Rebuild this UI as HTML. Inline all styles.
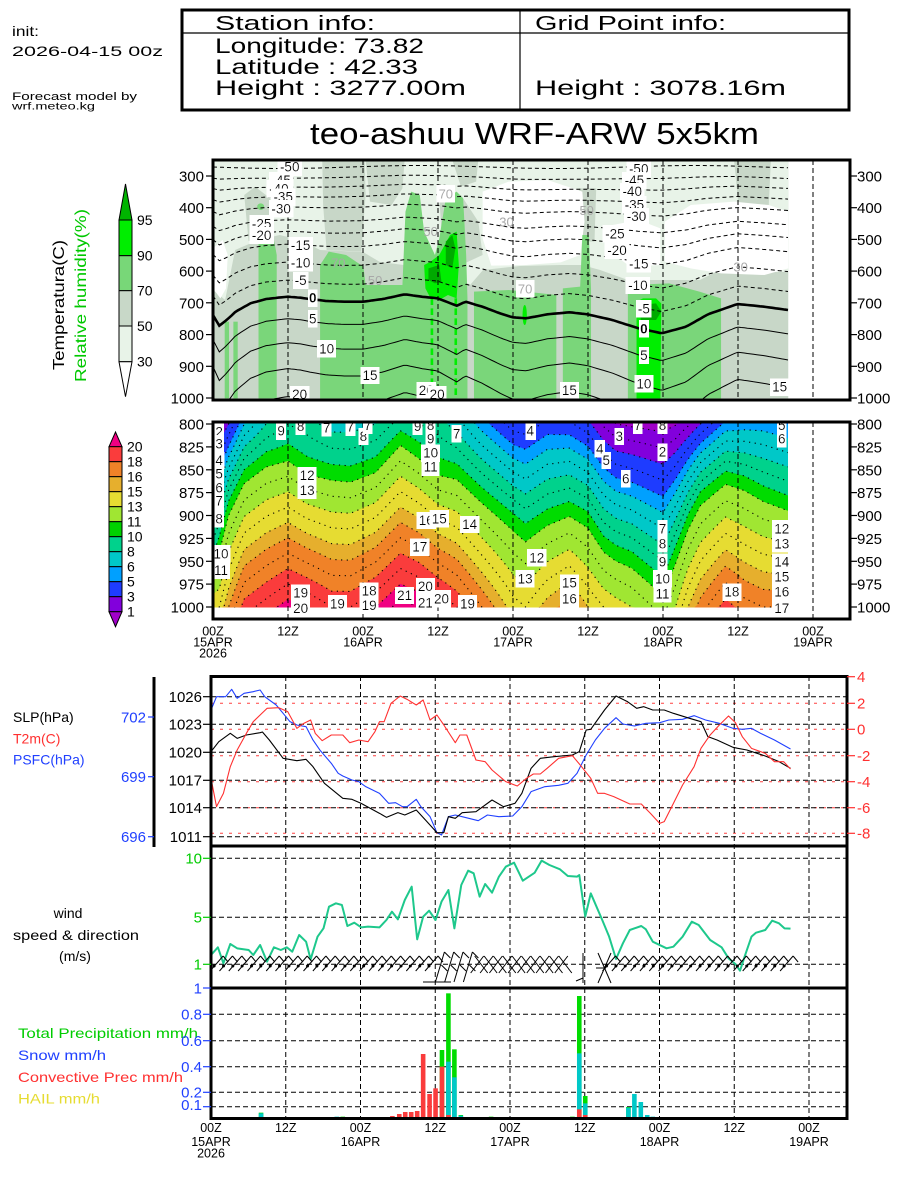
<!DOCTYPE html>
<html><head><meta charset="utf-8">
<style>
html,body{margin:0;padding:0;background:#fff;}
svg{display:block;font-family:"Liberation Sans",sans-serif;}
.lb{font-size:13.5px;text-anchor:middle;filter:url(#wb);fill:#000;}
.rh{font-size:13px;text-anchor:middle;fill:#a8a8a8;}
.ax{font-size:15px;fill:#000;}
.tl{font-size:12.5px;text-anchor:middle;fill:#000;}
</style></head>
<body>
<svg width="900" height="1200" viewBox="0 0 900 1200" xmlns="http://www.w3.org/2000/svg">
<defs>
<filter id="wb" x="-0.12" y="-0.06" width="1.24" height="1.12"><feFlood flood-color="#fff"/><feComposite in="SourceGraphic" operator="over"/></filter>
<clipPath id="cTop"><rect x="213" y="160" width="576" height="238.5"/></clipPath>
<clipPath id="cP2"><rect x="213" y="422" width="575" height="185.5"/></clipPath>
<clipPath id="cLow"><rect x="211" y="676" width="636" height="442"/></clipPath>
<linearGradient id="fb" x1="0" y1="0" x2="0" y2="1">
<stop offset="0" stop-color="#00c8c8"/><stop offset="0.35" stop-color="#00dc00"/><stop offset="0.55" stop-color="#a0e632"/><stop offset="0.75" stop-color="#e6dc32"/><stop offset="1" stop-color="#f08228"/>
</linearGradient>
</defs>
<rect width="900" height="1200" fill="#fff"/>

<!-- HEADER -->
<text x="12" y="36" font-size="14" textLength="27" lengthAdjust="spacingAndGlyphs">init:</text>
<text x="12" y="56" font-size="14" textLength="151" lengthAdjust="spacingAndGlyphs">2026-04-15 00z</text>
<text x="12" y="100" font-size="11" textLength="125" lengthAdjust="spacingAndGlyphs">Forecast model by</text>
<text x="12" y="109.5" font-size="10" textLength="83" lengthAdjust="spacingAndGlyphs">wrf.meteo.kg</text>
<rect x="182" y="10" width="667" height="100" fill="none" stroke="#000" stroke-width="3"/>
<line x1="182" y1="33" x2="849" y2="33" stroke="#000" stroke-width="1.2"/>
<line x1="520" y1="10" x2="520" y2="110" stroke="#000" stroke-width="1.2"/>
<text x="215" y="30" font-size="20" textLength="160" lengthAdjust="spacingAndGlyphs">Station info:</text>
<text x="215" y="53" font-size="21" textLength="209" lengthAdjust="spacingAndGlyphs">Longitude: 73.82</text>
<text x="215" y="74" font-size="21" textLength="203" lengthAdjust="spacingAndGlyphs">Latitude : 42.33</text>
<text x="215" y="95" font-size="21" textLength="251" lengthAdjust="spacingAndGlyphs">Height   : 3277.00m</text>
<text x="535" y="30" font-size="20" textLength="191" lengthAdjust="spacingAndGlyphs">Grid Point info:</text>
<text x="535" y="95" font-size="21" textLength="251" lengthAdjust="spacingAndGlyphs">Height   : 3078.16m</text>
<text x="310" y="144" font-size="31" textLength="449" lengthAdjust="spacingAndGlyphs">teo-ashuu WRF-ARW 5x5km</text>

<!-- LEFT LEGEND TOP -->
<text transform="translate(64,305) rotate(-90)" text-anchor="middle" font-size="16" textLength="130" lengthAdjust="spacingAndGlyphs">Temperatura(C)</text>
<text transform="translate(86,295.5) rotate(-90)" text-anchor="middle" font-size="15.5" fill="#00c800" textLength="173" lengthAdjust="spacingAndGlyphs">Relative humidity(%)</text>
<g stroke="#000" stroke-width="1">
<polygon points="119,220 132,220 125.5,184" fill="#00b400"/>
<rect x="119" y="220" width="13" height="35.7" fill="#00ee00"/>
<rect x="119" y="255.7" width="13" height="35" fill="#78d778"/>
<rect x="119" y="290.7" width="13" height="35.3" fill="#c8d8c8"/>
<rect x="119" y="326" width="13" height="35.7" fill="#e8f3e8"/>
<polygon points="119,361.7 132,361.7 125.5,396.7" fill="#fff"/>
</g>
<g font-size="14">
<text x="137" y="225">95</text><text x="137" y="260.7">90</text><text x="137" y="295.7">70</text><text x="137" y="331">50</text><text x="137" y="366.7">30</text>
</g>

<!-- LEFT LEGEND PANEL 2 -->
<g stroke="#000" stroke-width="1">
<polygon points="109,446.7 122,446.7 115.5,432" fill="#f00082"/>
<rect x="109" y="446.7" width="13" height="15" fill="#fa3c3c"/>
<rect x="109" y="461.7" width="13" height="15" fill="#f08228"/>
<rect x="109" y="476.7" width="13" height="15" fill="#e6af2d"/>
<rect x="109" y="491.7" width="13" height="15" fill="#e6dc32"/>
<rect x="109" y="506.7" width="13" height="15" fill="#a0e632"/>
<rect x="109" y="521.7" width="13" height="15" fill="#00d200"/>
<rect x="109" y="536.7" width="13" height="15" fill="#00d28c"/>
<rect x="109" y="551.7" width="13" height="15" fill="#00c8c8"/>
<rect x="109" y="566.7" width="13" height="15" fill="#00a0ff"/>
<rect x="109" y="581.7" width="13" height="15" fill="#1e3cff"/>
<rect x="109" y="596.7" width="13" height="15" fill="#8200dc"/>
<polygon points="109,611.7 122,611.7 115.5,626.7" fill="#a000c8"/>
</g>
<g font-size="14">
<text x="127" y="451.7">20</text><text x="127" y="466.7">18</text><text x="127" y="481.7">16</text><text x="127" y="496.7">15</text><text x="127" y="511.7">13</text><text x="127" y="526.7">11</text><text x="127" y="541.7">10</text><text x="127" y="556.7">8</text><text x="127" y="571.7">6</text><text x="127" y="586.7">5</text><text x="127" y="601.7">3</text><text x="127" y="616.7">1</text>
</g>

<!-- TOP PANEL RH FILL -->
<g clip-path="url(#cTop)">
 <g transform="matrix(0.4335 0 0 0.33333 179.19 155)">
  <rect x="78" y="15" width="1327" height="715" fill="#c8d7c8"/>
  <path fill="#e8f3e8" d="M78,15 L1405,15 L1405,351 L1340,351 L1247,345 L1201,375 L1035,375 L971,345 L929,330 L878,330 L786,333 L701,345 L671,390 L599,330 L518,330 L463,321 L424,291 L325,285 L279,255 L232,240 L182,255 L129,285 L106,435 L78,405 Z"/>
  <g fill="#c8d7c8">
   <path d="M330,15 L428,15 L430,120 L420,290 L340,285 L332,150 Z"/>
   <path d="M430,15 L520,15 L515,100 L490,150 L440,140 Z"/>
   <path d="M150,120 L175,95 L210,130 L215,250 L160,258 Z"/>
   <path d="M1280,15 L1365,15 L1360,150 L1320,210 L1290,150 Z"/>
   <path d="M630,15 L690,15 L685,80 L650,95 Z"/>
   <path d="M922,100 L962,100 L958,260 L928,260 Z"/>
   <path d="M600,130 L650,120 L690,200 L700,300 L650,330 L610,320 Z"/>
  </g>
  <g fill="#fff">
   <path d="M78,280 L100,255 L112,300 L108,400 L95,430 L78,400 Z"/>
   <path d="M700,110 L760,80 L850,75 L930,110 L935,200 L925,300 L880,322 L800,330 L720,332 L700,250 Z"/>
   <path d="M1000,210 L1060,195 L1110,220 L1110,330 L1040,335 L1005,300 Z"/>
   <path d="M1120,200 L1180,150 L1280,140 L1360,150 L1405,170 L1405,340 L1350,360 L1250,355 L1180,340 L1120,320 Z"/>
  </g>
  <g fill="#7ad67a">
   <rect x="105" y="500" width="10" height="230"/>
   <rect x="125" y="500" width="10" height="230"/>
   <path d="M183,730 L183,260 L190,215 L205,205 L215,230 L225,300 L225,730 Z"/>
   <ellipse cx="188" cy="155" rx="8" ry="10"/>
   <path d="M325,730 L325,330 L345,290 L385,300 L425,335 L430,390 L515,390 L522,170 L535,110 L555,120 L565,230 L590,300 L600,250 L615,130 L640,110 L655,130 L662,300 L665,430 L665,730 Z"/>
   <path d="M680,730 L680,410 L760,405 L800,410 L870,420 L870,730 Z"/>
   <path d="M885,730 L885,400 L925,395 L930,240 L945,240 L950,400 L950,730 Z"/>
   <path d="M1035,730 L1035,390 L1130,385 L1200,410 L1250,430 L1250,730 Z"/>
  </g>
  <g fill="#00ee00">
   <path d="M565,330 L580,320 L600,300 L625,240 L640,230 L645,330 L640,430 L620,420 L600,435 L580,430 L568,400 Z"/>
   <ellipse cx="797" cy="480" rx="5" ry="30"/>
   <path d="M1055,730 L1055,440 L1070,430 L1100,430 L1112,445 L1110,730 Z"/>
  </g>
  <g fill="#00aa00">
   <path d="M575,340 L600,330 L605,380 L590,385 L575,375 Z"/>
   <path d="M615,260 L630,240 L637,280 L630,340 L615,330 Z"/>
   <path d="M1062,450 L1100,445 L1112,470 L1100,495 L1065,495 Z"/>
  </g>
  <g stroke="#00ee00" stroke-width="6" stroke-dasharray="20,10">
   <line x1="583" y1="430" x2="583" y2="730"/>
   <line x1="638" y1="430" x2="638" y2="730"/>
  </g>
 </g>
 <g id="topIso"></g>
</g>
<g stroke="#000" stroke-width="1" stroke-dasharray="5,3">
<line x1="288" y1="160" x2="288" y2="400"/><line x1="363" y1="160" x2="363" y2="400"/><line x1="438" y1="160" x2="438" y2="400"/><line x1="513" y1="160" x2="513" y2="400"/><line x1="588" y1="160" x2="588" y2="400"/><line x1="663" y1="160" x2="663" y2="400"/><line x1="738" y1="160" x2="738" y2="400"/><line x1="813" y1="160" x2="813" y2="400"/>
</g>
<!-- top labels -->
<text class="rh" x="430.6" y="236">50</text>
<text class="rh" x="338.3" y="267.3">70</text>
<text class="rh" x="375.1" y="285">50</text>
<text class="rh" x="506.5" y="226.7">30</text>
<text class="rh" x="586.7" y="215">50</text>
<text class="rh" x="740.6" y="271.7">30</text>
<text class="rh" x="445.8" y="198.3" filter="url(#wb)">70</text>
<text class="rh" x="525.1" y="293.3" filter="url(#wb)">70</text>
<text class="lb" x="289.7" y="171.7">-50</text>
<text class="lb" x="281.1" y="185">-45</text>
<text class="lb" x="278.9" y="193.3">-40</text>
<text class="lb" x="283.2" y="201.7">-35</text>
<text class="lb" x="281.1" y="213.3">-30</text>
<text class="lb" x="261.6" y="228.3">-25</text>
<text class="lb" x="261.6" y="240">-20</text>
<text class="lb" x="300.6" y="250">-15</text>
<text class="lb" x="300.6" y="267.3">-10</text>
<text class="lb" x="300.6" y="285">-5</text>
<text class="lb" x="312.7" y="302.7" font-weight="bold">0</text>
<text class="lb" x="312.7" y="323.3">5</text>
<text class="lb" x="326.6" y="353.3">10</text>
<text class="lb" x="370" y="380">15</text>
<text class="lb" x="299.7" y="399">20</text>
<text class="lb" x="426.3" y="395">20</text>
<text class="lb" x="437.1" y="399">20</text>
<text class="lb" x="638.7" y="173.3">-50</text>
<text class="lb" x="634.4" y="185">-45</text>
<text class="lb" x="632.2" y="196">-40</text>
<text class="lb" x="634.4" y="209.3">-35</text>
<text class="lb" x="636.5" y="221">-30</text>
<text class="lb" x="614.9" y="238.3">-25</text>
<text class="lb" x="617" y="255">-20</text>
<text class="lb" x="638.7" y="268.3">-15</text>
<text class="lb" x="637.9" y="290">-10</text>
<text class="lb" x="643.9" y="313.3">-5</text>
<text class="lb" x="643.9" y="333.3" font-weight="bold">0</text>
<text class="lb" x="643.9" y="360">5</text>
<text class="lb" x="643.9" y="388.3">10</text>
<text class="lb" x="569.4" y="395">15</text>
<text class="lb" x="779.6" y="391.7">15</text>
<rect x="213" y="160" width="637" height="240" fill="none" stroke="#000" stroke-width="3"/>
<g stroke="#000" stroke-width="1.2">
<line x1="206" y1="176" x2="213" y2="176"/><line x1="206" y1="207.7" x2="213" y2="207.7"/><line x1="206" y1="239.4" x2="213" y2="239.4"/><line x1="206" y1="271.1" x2="213" y2="271.1"/><line x1="206" y1="302.8" x2="213" y2="302.8"/><line x1="206" y1="334.6" x2="213" y2="334.6"/><line x1="206" y1="366.3" x2="213" y2="366.3"/><line x1="206" y1="398" x2="213" y2="398"/>
<line x1="850" y1="176" x2="857" y2="176"/><line x1="850" y1="207.7" x2="857" y2="207.7"/><line x1="850" y1="239.4" x2="857" y2="239.4"/><line x1="850" y1="271.1" x2="857" y2="271.1"/><line x1="850" y1="302.8" x2="857" y2="302.8"/><line x1="850" y1="334.6" x2="857" y2="334.6"/><line x1="850" y1="366.3" x2="857" y2="366.3"/><line x1="850" y1="398" x2="857" y2="398"/>
</g>
<g class="ax" text-anchor="end">
<text x="204" y="181.5">300</text><text x="204" y="213.2">400</text><text x="204" y="244.9">500</text><text x="204" y="276.6">600</text><text x="204" y="308.3">700</text><text x="204" y="340.1">800</text><text x="204" y="371.8">900</text><text x="204" y="403.5">1000</text>
</g>
<g class="ax">
<text x="857" y="181.5">300</text><text x="857" y="213.2">400</text><text x="857" y="244.9">500</text><text x="857" y="276.6">600</text><text x="857" y="308.3">700</text><text x="857" y="340.1">800</text><text x="857" y="371.8">900</text><text x="857" y="403.5">1000</text>
</g>

<!-- PANEL 2 -->
<rect x="213" y="422" width="575" height="185.5" fill="url(#fb)"/>
<g clip-path="url(#cP2)">
 <g id="p2fill"></g>
 <g id="p2dots"></g>
</g>
<g stroke="#000" stroke-width="1" stroke-dasharray="5,3">
<line x1="288" y1="422" x2="288" y2="619"/><line x1="363" y1="422" x2="363" y2="619"/><line x1="438" y1="422" x2="438" y2="619"/><line x1="513" y1="422" x2="513" y2="619"/><line x1="588" y1="422" x2="588" y2="619"/><line x1="663" y1="422" x2="663" y2="619"/><line x1="738" y1="422" x2="738" y2="619"/><line x1="813" y1="422" x2="813" y2="619"/>
</g>
<g>
<text class="lb" x="219.1" y="436.7">2</text><text class="lb" x="219.1" y="448.3">3</text><text class="lb" x="219.1" y="465">4</text><text class="lb" x="219.1" y="478.3">5</text><text class="lb" x="219.1" y="492.3">6</text><text class="lb" x="219.1" y="505.7">7</text><text class="lb" x="219.1" y="523.3">8</text><text class="lb" x="221" y="558.3">10</text><text class="lb" x="221" y="575">11</text>
<text class="lb" x="281.1" y="435.7">9</text><text class="lb" x="300.6" y="431">8</text><text class="lb" x="326.6" y="432.3">7</text><text class="lb" x="350.4" y="431.7">7</text><text class="lb" x="363.4" y="441">8</text><text class="lb" x="367.8" y="430">7</text>
<text class="lb" x="417.6" y="431">9</text><text class="lb" x="430.6" y="430">8</text><text class="lb" x="430.6" y="443.3">9</text><text class="lb" x="430.6" y="457.7">10</text><text class="lb" x="430.6" y="471.7">11</text><text class="lb" x="456.6" y="438.3">7</text>
<text class="lb" x="307.1" y="480">12</text><text class="lb" x="307.1" y="495">13</text>
<text class="lb" x="426.3" y="525">16</text><text class="lb" x="439.3" y="523.3">15</text><text class="lb" x="469.6" y="529">14</text><text class="lb" x="419.8" y="551.7">17</text>
<text class="lb" x="536.8" y="562.3">12</text><text class="lb" x="525.1" y="583.3">13</text><text class="lb" x="569.4" y="587.7">15</text><text class="lb" x="569.4" y="603.3">16</text>
<text class="lb" x="300.6" y="597.7">19</text><text class="lb" x="300.6" y="613">20</text><text class="lb" x="337.4" y="608.3">19</text><text class="lb" x="369.1" y="595.7">18</text><text class="lb" x="369.1" y="610">19</text>
<text class="lb" x="404.6" y="600">21</text><text class="lb" x="425.4" y="591">20</text><text class="lb" x="425.4" y="607.7">21</text><text class="lb" x="441.5" y="603.3">20</text><text class="lb" x="467.5" y="608.3">19</text>
<text class="lb" x="530.3" y="435.7">4</text><text class="lb" x="619.2" y="441">3</text><text class="lb" x="599.7" y="453.3">4</text><text class="lb" x="606.2" y="465">5</text><text class="lb" x="625.7" y="483.3">6</text>
<text class="lb" x="637.8" y="430">7</text><text class="lb" x="662.5" y="430">8</text><text class="lb" x="662.5" y="456.7">2</text>
<text class="lb" x="662.5" y="533.3">7</text><text class="lb" x="662.5" y="548.3">8</text><text class="lb" x="662.5" y="566.7">9</text><text class="lb" x="662.5" y="583.3">10</text><text class="lb" x="662.5" y="598.3">11</text>
<text class="lb" x="731.9" y="596.7">18</text>
<text class="lb" x="781.8" y="430">5</text><text class="lb" x="781.8" y="443.3">6</text><text class="lb" x="781.8" y="533.3">12</text><text class="lb" x="781.8" y="548.3">13</text><text class="lb" x="781.8" y="566.7">14</text><text class="lb" x="781.8" y="581.7">15</text><text class="lb" x="781.8" y="596.7">16</text><text class="lb" x="781.8" y="613">17</text>
</g>
<rect x="213" y="422" width="637" height="197" fill="none" stroke="#000" stroke-width="3"/>
<g stroke="#000" stroke-width="1.2">
<line x1="206" y1="424" x2="213" y2="424"/><line x1="206" y1="446.9" x2="213" y2="446.9"/><line x1="206" y1="469.8" x2="213" y2="469.8"/><line x1="206" y1="492.6" x2="213" y2="492.6"/><line x1="206" y1="515.5" x2="213" y2="515.5"/><line x1="206" y1="538.4" x2="213" y2="538.4"/><line x1="206" y1="561.3" x2="213" y2="561.3"/><line x1="206" y1="584.1" x2="213" y2="584.1"/><line x1="206" y1="607" x2="213" y2="607"/>
<line x1="850" y1="424" x2="857" y2="424"/><line x1="850" y1="446.9" x2="857" y2="446.9"/><line x1="850" y1="469.8" x2="857" y2="469.8"/><line x1="850" y1="492.6" x2="857" y2="492.6"/><line x1="850" y1="515.5" x2="857" y2="515.5"/><line x1="850" y1="538.4" x2="857" y2="538.4"/><line x1="850" y1="561.3" x2="857" y2="561.3"/><line x1="850" y1="584.1" x2="857" y2="584.1"/><line x1="850" y1="607" x2="857" y2="607"/>
</g>
<g class="ax" text-anchor="end">
<text x="204" y="429.5">800</text><text x="204" y="452.4">825</text><text x="204" y="475.3">850</text><text x="204" y="498.1">875</text><text x="204" y="521">900</text><text x="204" y="543.9">925</text><text x="204" y="566.8">950</text><text x="204" y="589.6">975</text><text x="204" y="612.5">1000</text>
</g>
<g class="ax">
<text x="857" y="429.5">800</text><text x="857" y="452.4">825</text><text x="857" y="475.3">850</text><text x="857" y="498.1">875</text><text x="857" y="521">900</text><text x="857" y="543.9">925</text><text x="857" y="566.8">950</text><text x="857" y="589.6">975</text><text x="857" y="612.5">1000</text>
</g>
<g class="tl">
<text x="213" y="635.5">00Z</text><text x="288" y="635.5">12Z</text><text x="363" y="635.5">00Z</text><text x="438" y="635.5">12Z</text><text x="513" y="635.5">00Z</text><text x="588" y="635.5">12Z</text><text x="663" y="635.5">00Z</text><text x="738" y="635.5">12Z</text><text x="813" y="635.5">00Z</text>
<text x="213" y="646.5">15APR</text><text x="363" y="646.5">16APR</text><text x="513" y="646.5">17APR</text><text x="663" y="646.5">18APR</text><text x="813" y="646.5">19APR</text>
<text x="213" y="657.5">2026</text>
</g>

<!-- LOWER LEFT LEGENDS -->
<text x="13" y="722" font-size="14">SLP(hPa)</text>
<text x="13" y="743.5" font-size="14" fill="#ff3030">T2m(C)</text>
<text x="13" y="764.5" font-size="14" fill="#2040ff">PSFC(hPa)</text>
<text x="68" y="918" font-size="14" text-anchor="middle">wind</text>
<text x="13" y="940" font-size="14" textLength="126" lengthAdjust="spacingAndGlyphs">speed &amp; direction</text>
<text x="75" y="961" font-size="14" text-anchor="middle">(m/s)</text>
<text x="18" y="1038" font-size="14" fill="#00cc00" textLength="180" lengthAdjust="spacingAndGlyphs">Total Precipitation mm/h</text>
<text x="18" y="1060" font-size="14" fill="#2040ff" textLength="88" lengthAdjust="spacingAndGlyphs">Snow mm/h</text>
<text x="18" y="1082" font-size="14" fill="#ff3030" textLength="165" lengthAdjust="spacingAndGlyphs">Convective Prec mm/h</text>
<text x="18" y="1103.5" font-size="14" fill="#e6dc32" textLength="82" lengthAdjust="spacingAndGlyphs">HAIL mm/h</text>

<!-- PSFC axis -->
<line x1="154" y1="677" x2="154" y2="847" stroke="#000" stroke-width="3"/>
<g stroke="#2040ff" stroke-width="1.2"><line x1="148" y1="717" x2="154" y2="717"/><line x1="148" y1="776.7" x2="154" y2="776.7"/><line x1="148" y1="836.7" x2="154" y2="836.7"/></g>
<g class="ax" text-anchor="end" style="fill:#2040ff">
<text x="146" y="722.4">702</text><text x="146" y="782.1">699</text><text x="146" y="842.1">696</text>
</g>

<!-- LOWER PANELS GRID -->
<g stroke="#ff4040" stroke-width="1" stroke-dasharray="3,6">
<line x1="211" y1="703.3" x2="847" y2="703.3"/><line x1="211" y1="729.3" x2="847" y2="729.3"/><line x1="211" y1="755.7" x2="847" y2="755.7"/><line x1="211" y1="781.7" x2="847" y2="781.7"/><line x1="211" y1="807.7" x2="847" y2="807.7"/><line x1="211" y1="833.3" x2="847" y2="833.3"/>
</g>
<g stroke="#000" stroke-width="1" stroke-dasharray="5,3">
<line x1="211" y1="696.7" x2="847" y2="696.7"/><line x1="211" y1="724.3" x2="847" y2="724.3"/><line x1="211" y1="752.3" x2="847" y2="752.3"/><line x1="211" y1="780.3" x2="847" y2="780.3"/><line x1="211" y1="807.7" x2="847" y2="807.7"/><line x1="211" y1="836.7" x2="847" y2="836.7"/>
<line x1="211" y1="858.3" x2="847" y2="858.3"/><line x1="211" y1="917.3" x2="847" y2="917.3"/><line x1="211" y1="964.3" x2="847" y2="964.3"/>
<line x1="211" y1="1014.3" x2="847" y2="1014.3"/><line x1="211" y1="1040.7" x2="847" y2="1040.7"/><line x1="211" y1="1066.7" x2="847" y2="1066.7"/><line x1="211" y1="1092.3" x2="847" y2="1092.3"/><line x1="211" y1="1106.7" x2="847" y2="1106.7"/>
<line x1="285.75" y1="676" x2="285.75" y2="1118"/><line x1="360.5" y1="676" x2="360.5" y2="1118"/><line x1="435.25" y1="676" x2="435.25" y2="1118"/><line x1="510" y1="676" x2="510" y2="1118"/><line x1="584.75" y1="676" x2="584.75" y2="1118"/><line x1="659.5" y1="676" x2="659.5" y2="1118"/><line x1="734.25" y1="676" x2="734.25" y2="1118"/><line x1="809" y1="676" x2="809" y2="1118"/>
</g>

<!-- SLP / T2m / PSFC lines -->
<g clip-path="url(#cLow)">
<g transform="matrix(0.4592 0 0 0.33333 149.93 670)" fill="none" stroke-linejoin="round">
<polyline vector-effect="non-scaling-stroke" stroke="#2040ff" stroke-width="1.1" points="133,120 145,80 165,80 178,58 190,85 205,70 225,65 240,60 250,80 275,105 290,130 305,155 320,165 340,170 355,210 370,240 395,280 410,310 420,318 440,330 455,335 470,350 500,370 520,400 535,398 550,410 560,410 580,388 590,410 610,440 625,488 635,495 650,440 665,435 680,440 715,452 735,435 760,440 790,438 810,410 830,365 860,350 890,346 910,340 930,310 950,255 970,210 990,175 1015,143 1030,162 1055,168 1080,160 1110,158 1130,150 1160,148 1185,137 1210,150 1240,160 1270,175 1290,178 1310,175 1330,190 1360,210 1395,237"/>
<polyline vector-effect="non-scaling-stroke" stroke="#000" stroke-width="1.1" points="133,245 150,215 175,190 190,205 210,195 240,188 245,186 260,210 290,265 320,272 340,268 355,290 380,340 420,385 440,388 460,400 500,430 515,442 540,428 555,435 580,420 600,450 625,488 640,488 650,440 665,445 680,428 710,425 745,390 770,410 795,400 810,370 830,295 850,265 880,260 920,255 935,245 950,180 960,178 990,120 1015,78 1040,95 1060,115 1075,110 1095,120 1120,120 1140,130 1175,145 1200,155 1215,200 1235,210 1270,232 1280,235 1300,240 1340,258 1370,275 1395,295"/>
<polyline vector-effect="non-scaling-stroke" stroke="#ff3030" stroke-width="1.1" points="133,325 145,410 160,370 175,290 190,240 210,190 225,155 240,135 255,115 280,113 300,125 320,175 335,160 350,150 360,190 375,212 395,195 420,195 435,218 455,210 475,215 490,185 500,155 510,155 525,100 545,78 560,88 580,105 595,90 610,150 625,135 640,165 665,218 675,195 690,195 710,270 730,275 745,300 775,335 800,348 820,325 835,312 850,312 865,295 890,265 920,257 940,290 960,325 975,370 990,370 1010,380 1045,402 1070,402 1090,430 1110,460 1120,455 1140,400 1160,345 1185,290 1200,235 1220,195 1240,165 1260,138 1275,158 1290,200 1310,235 1340,250 1360,275 1380,275 1395,297"/>
</g>
<g transform="matrix(0.4592 0 0 0.33333 149.93 840)" fill="none" stroke-linejoin="round">
<polyline vector-effect="non-scaling-stroke" stroke="#1ec88c" stroke-width="2" points="133,345 148,322 160,370 175,312 190,325 215,330 225,345 240,315 255,365 270,322 285,330 298,322 310,335 325,285 340,305 350,358 365,290 378,265 390,200 405,190 418,195 430,258 445,248 460,262 475,260 500,262 515,240 527,215 540,238 555,180 570,140 582,298 595,230 608,212 622,240 635,185 650,150 663,265 678,135 693,92 705,100 718,170 730,132 745,158 760,110 775,80 793,68 812,122 838,98 853,62 870,75 893,88 910,108 930,110 935,105 948,230 960,160 985,240 1000,290 1015,357 1030,310 1045,270 1070,258 1080,268 1095,305 1125,325 1140,320 1160,290 1180,245 1195,255 1220,300 1245,322 1260,355 1275,372 1285,392 1295,350 1310,290 1320,278 1340,270 1355,242 1370,250 1382,265 1395,266"/>
</g>
<g id="barbs" stroke="#000" stroke-width="1" fill="#000">
<line x1="423" y1="982" x2="451" y2="982"/>
<line x1="583" y1="953" x2="583" y2="983"/><line x1="576" y1="981" x2="583" y2="978"/>
<line x1="598" y1="953" x2="611" y2="983"/><line x1="611" y1="953" x2="598" y2="983"/><line x1="596" y1="968" x2="606" y2="968"/>
</g>
<!-- precip bars -->
<g transform="matrix(0.4592 0 0 0.33333 149.93 980)">
<g fill="#00dc00">
<rect x="237" y="398" width="10" height="17"/><rect x="415" y="410" width="10" height="5"/>
<rect x="631" y="210" width="10" height="205"/><rect x="645" y="40" width="10" height="375"/><rect x="658" y="208" width="10" height="207"/><rect x="672" y="405" width="10" height="10"/><rect x="738" y="410" width="10" height="5"/><rect x="915" y="410" width="10" height="5"/>
<rect x="930" y="48" width="10" height="367"/><rect x="943" y="348" width="10" height="67"/><rect x="1037" y="381" width="10" height="34"/>
</g>
<g fill="#00c8c8">
<rect x="237" y="400" width="10" height="15"/><rect x="402" y="410" width="10" height="5"/>
<rect x="645" y="245" width="10" height="170"/><rect x="658" y="292" width="10" height="123"/><rect x="672" y="407" width="10" height="8"/><rect x="738" y="411" width="10" height="4"/><rect x="915" y="411" width="10" height="4"/>
<rect x="930" y="220" width="10" height="195"/><rect x="943" y="370" width="10" height="45"/><rect x="1037" y="383" width="10" height="32"/><rect x="1050" y="342" width="10" height="73"/><rect x="1064" y="366" width="10" height="49"/><rect x="1078" y="405" width="10" height="10"/><rect x="1090" y="410" width="10" height="5"/>
</g>
<g fill="#fa3c3c">
<rect x="333" y="411" width="10" height="4"/><rect x="523" y="408" width="10" height="7"/><rect x="538" y="402" width="10" height="13"/><rect x="551" y="396" width="10" height="19"/><rect x="564" y="396" width="10" height="19"/><rect x="577" y="393" width="10" height="22"/>
<rect x="590" y="222" width="10" height="193"/><rect x="604" y="342" width="10" height="73"/><rect x="617" y="325" width="10" height="90"/><rect x="631" y="260" width="10" height="155"/><rect x="645" y="405" width="10" height="10"/>
<rect x="930" y="388" width="10" height="27"/><rect x="943" y="405" width="10" height="10"/>
</g>
</g>
</g>

<!-- LOWER FRAMES -->
<rect x="211" y="676.5" width="636" height="442" fill="none" stroke="#000" stroke-width="3"/>
<line x1="211" y1="846" x2="847" y2="846" stroke="#000" stroke-width="3"/>
<line x1="211" y1="988" x2="847" y2="988" stroke="#000" stroke-width="3"/>
<!-- lower ticks -->
<g stroke="#000" stroke-width="1.2">
<line x1="203" y1="696.7" x2="211" y2="696.7"/><line x1="203" y1="724.3" x2="211" y2="724.3"/><line x1="203" y1="752.3" x2="211" y2="752.3"/><line x1="203" y1="780.3" x2="211" y2="780.3"/><line x1="203" y1="807.7" x2="211" y2="807.7"/><line x1="203" y1="836.7" x2="211" y2="836.7"/>
</g>
<g stroke="#00cc00" stroke-width="1.2"><line x1="203" y1="858.3" x2="211" y2="858.3"/><line x1="203" y1="917.3" x2="211" y2="917.3"/><line x1="203" y1="964.3" x2="211" y2="964.3"/></g>
<g stroke="#2040ff" stroke-width="1.2"><line x1="203" y1="988" x2="211" y2="988"/><line x1="203" y1="1014.3" x2="211" y2="1014.3"/><line x1="203" y1="1040.7" x2="211" y2="1040.7"/><line x1="203" y1="1066.7" x2="211" y2="1066.7"/><line x1="203" y1="1092.3" x2="211" y2="1092.3"/><line x1="203" y1="1106.7" x2="211" y2="1106.7"/></g>
<g stroke="#ff3030" stroke-width="1.2"><line x1="847" y1="676.7" x2="855" y2="676.7"/><line x1="847" y1="703.3" x2="855" y2="703.3"/><line x1="847" y1="729.3" x2="855" y2="729.3"/><line x1="847" y1="755.7" x2="855" y2="755.7"/><line x1="847" y1="781.7" x2="855" y2="781.7"/><line x1="847" y1="807.7" x2="855" y2="807.7"/><line x1="847" y1="833.3" x2="855" y2="833.3"/></g>
<g class="ax" text-anchor="end">
<text x="202" y="702.1">1026</text><text x="202" y="729.7">1023</text><text x="202" y="757.7">1020</text><text x="202" y="785.7">1017</text><text x="202" y="813.1">1014</text><text x="202" y="842.1">1011</text>
</g>
<g class="ax" text-anchor="end" style="fill:#00cc00">
<text x="202" y="863.7">10</text><text x="202" y="922.7">5</text><text x="202" y="969.7">1</text>
</g>
<g class="ax" text-anchor="end" style="fill:#2040ff">
<text x="202" y="993.4">1</text><text x="202" y="1019.7">0.8</text><text x="202" y="1046.1">0.6</text><text x="202" y="1072.1">0.4</text><text x="202" y="1097.7">0.2</text><text x="202" y="1110">0.1</text>
</g>
<g class="ax" style="fill:#ff3030">
<text x="857" y="682.1">4</text><text x="857" y="708.7">2</text><text x="857" y="734.7">0</text><text x="857" y="761.1">-2</text><text x="857" y="787.1">-4</text><text x="857" y="813.1">-6</text><text x="857" y="838.7">-8</text>
</g>
<g class="tl">
<text x="211" y="1132">00Z</text><text x="285.75" y="1132">12Z</text><text x="360.5" y="1132">00Z</text><text x="435.25" y="1132">12Z</text><text x="510" y="1132">00Z</text><text x="584.75" y="1132">12Z</text><text x="659.5" y="1132">00Z</text><text x="734.25" y="1132">12Z</text><text x="809" y="1132">00Z</text>
<text x="211" y="1146">15APR</text><text x="360.5" y="1146">16APR</text><text x="510" y="1146">17APR</text><text x="659.5" y="1146">18APR</text><text x="809" y="1146">19APR</text>
<text x="211" y="1157.5">2026</text>
</g>
</svg>
<script>
(function(){
var NS="http://www.w3.org/2000/svg";
function mk(tag,a,par){var e=document.createElementNS(NS,tag);for(var k in a)e.setAttribute(k,a[k]);par.appendChild(e);return e;}
function lerp(tb,t){if(t<=tb[0][0])return tb[0].slice(1);for(var i=1;i<tb.length;i++){if(t<=tb[i][0]){var a=tb[i-1],b=tb[i],f=(t-a[0])/(b[0]-a[0]),r=[];for(var j=1;j<a.length;j++)r.push(a[j]+(b[j]-a[j])*f);return r;}}return tb[tb.length-1].slice(1);}
/* panel 2 temperature field */
var P2=[[0,1.5,952,14],[1,1.5,930,14],[2.5,3,890,16],[5,6,856,18.5],[8.5,8,838,19.5],[12,9,832,20.5],[15,8.5,847,20],[19,7.5,853,19],[22,7.5,855,19],[26,8,845,20],[30,9.5,815,21.5],[33,9,830,21],[36,8.5,848,20],[39,7.5,852,19],[43,5.5,877,17],[48,3.5,905,14.5],[50,3.3,917,14],[53.5,4.3,901,15.5],[57,4.2,892,16.5],[60,3.3,903,15],[62.5,1.8,930,14],[64.5,1.0,940,13.5],[67,0.8,947,13],[72,0.5,976,11.5],[74,0.9,941,13],[76,1.8,905,15],[78,3,879,16.5],[82,5.3,857,18.5],[85,5.5,863,17.5],[88,5.5,875,17],[92,5,886,17]];
function pL(L,t){var v=lerp(P2,t);if(L<=10.5)return 800+(L-v[0])/(10.5-v[0])*(v[1]-800);return v[1]+(L-10.5)/(v[2]-10.5)*(1000-v[1]);}
function y2(p){return 424+(p-800)*0.915;}
function xt(t){return 213+6.25*t;}
var g=document.getElementById('p2fill');
var LV=[1,3,5,6,8,10,11,13,15,16,18,20];
var CL=['#8200dc','#1e3cff','#00a0ff','#00c8c8','#00d28c','#00dc00','#a0e632','#e6dc32','#e6af2d','#f08228','#fa3c3c','#f00082'];
mk('rect',{x:213,y:421,width:xt(92)-213,height:186.5,fill:'#a000c8'},g);
var i,t,pts,k,L;
for(i=0;i<LV.length;i++){pts=[];for(t=0;t<=92.001;t+=0.5){var y=y2(pL(LV[i],t));y=Math.max(421,Math.min(607.5,y));pts.push(xt(t).toFixed(1)+','+y.toFixed(1));}pts.push(xt(92).toFixed(1)+',607.5');pts.push('213,607.5');mk('polygon',{points:pts.join(' '),fill:CL[i]},g);}
var gd=document.getElementById('p2dots');
for(L=1;L<=22;L++){pts=[];for(t=0;t<=92.001;t+=0.5){pts.push(xt(t).toFixed(1)+','+y2(pL(L,t)).toFixed(1));}mk('polyline',{points:pts.join(' '),fill:'none',stroke:'#000','stroke-width':1.1,'stroke-dasharray':'1.2,4.5'},gd);}
/* top panel isotherms */
var Y0=[[0,315],[1,325.7],[2.2,320],[3.6,311.7],[6,303.3],[8.5,299],[11.9,296.7],[14,297.7],[15.4,299],[18.2,301],[20.9,301.7],[24,301.7],[27.2,299],[30.7,294.3],[33.4,296.7],[35.9,298.3],[39,305.7],[40.4,301.7],[43.1,306.7],[45.9,313.3],[47.9,317.3],[50.1,318.3],[53.5,314.3],[57,312.3],[59.9,314.3],[63.9,320],[68.1,328.3],[71.8,333.3],[75.7,326.7],[79.2,314.3],[83.9,304],[88.2,306.7],[92,310]];
var gt=document.getElementById('topIso');
var NF=[0.13,0.27,0.41,0.51,0.60,0.70,0.78,0.855,0.925,1.0];
var PO=[22,46,72,100];
for(k=0;k<NF.length;k++){pts=[];for(t=0;t<=92.001;t+=0.5){var y0=lerp(Y0,t)[0];var top=167+1.5*Math.sin(t/7);pts.push(xt(t).toFixed(1)+','+(y0-NF[k]*(y0-top)).toFixed(1));}mk('polyline',{points:pts.join(' '),fill:'none',stroke:'#000','stroke-width':1,'stroke-dasharray':'4,3'},gt);}
pts=[];for(t=0;t<=92.001;t+=0.5){pts.push(xt(t).toFixed(1)+','+lerp(Y0,t)[0].toFixed(1));}
mk('polyline',{points:pts.join(' '),fill:'none',stroke:'#000','stroke-width':2.6},gt);
for(k=0;k<PO.length;k++){pts=[];for(t=0;t<=92.001;t+=0.5){var yy=lerp(Y0,t)[0];var s=1+(yy-297)/150;pts.push(xt(t).toFixed(1)+','+(yy+PO[k]*s).toFixed(1));}mk('polyline',{points:pts.join(' '),fill:'none',stroke:'#000','stroke-width':1},gt);}
/* wind barbs */
var gw=document.getElementById('barbs');
function ln(a,b,c,d){mk('line',{x1:a.toFixed(1),y1:b,x2:c.toFixed(1),y2:d},gw);}
for(t=0.5;t<=92;t+=1.5){var x=211+6.229*t;
 if(t>=36.5&&t<=41){ln(x-3,982,x+6,952);ln(x+6,952,x+12,958);ln(x+3,965,x+9,971);}
 else if(t>41&&t<=57){ln(x-5,973,x+8,956);ln(x-1,956,x+12,973);}
 else if(t>57&&t<=62){}
 else {ln(x-4,971,x+9,956);ln(x+9,956,x+14,962);mk('circle',{cx:x.toFixed(1),cy:966,r:1},gw);}
}
})();
</script>
</body></html>
